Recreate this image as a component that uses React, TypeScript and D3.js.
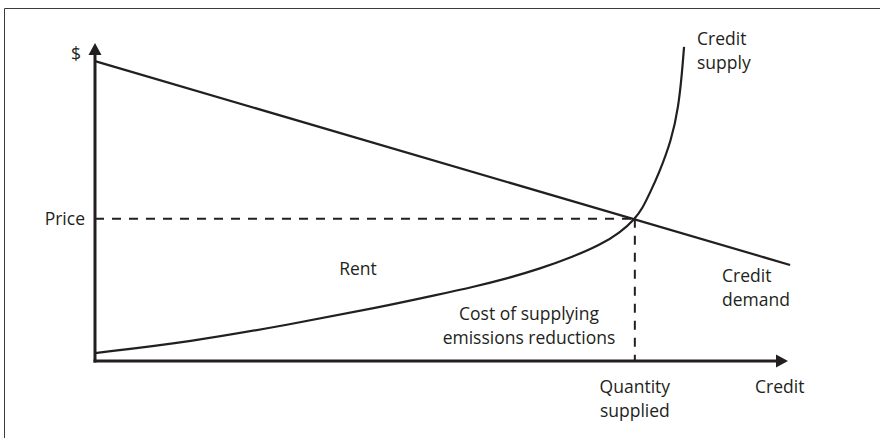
import React, { useEffect, useRef } from 'react';
import * as d3 from 'd3';

// demand line end points (x = quantity of credits, y = $)
const demandPoints: [number, number][] = [
  [0, 94.3],
  [100.3, 30.2],
];

// supply curve
const supplyX = [0, 13.7, 28.1, 41.1, 49.8, 54.6, 59.4, 64.2, 69.0, 72.9, 75.8, 77.9, 79.0, 80.1, 81.3, 83.2, 84.2, 84.7, 85.0];
const supplyY = [2.5, 6.0, 11.5, 16.9, 21.0, 23.3, 25.9, 29.0, 32.8, 36.5, 40.4, 44.7, 48.0, 53.0, 58.6, 69.5, 80.0, 90.5, 98.8];

const equilibrium = { quantity: 77.9, price: 44.7 };

const ink = '#231f20';
const fontFamily = '"Open Sans", "Noto Sans", sans-serif';

const W = 880;
const H = 438;

const App: React.FC = () => {
  const svgRef = useRef<SVGSVGElement>(null);

  useEffect(() => {
    if (!svgRef.current) return;
    const svg = d3.select(svgRef.current);
    svg.selectAll('*').remove();

    const x = d3.scaleLinear().domain([0, 100]).range([95, 788]);
    const y = d3.scaleLinear().domain([0, 100]).range([361, 43]);

    // frame (only top and left edges visible)
    svg.append('line').attr('x1', 4.5).attr('y1', 8.5).attr('x2', W).attr('y2', 8.5)
      .attr('stroke', '#3a3a3a').attr('stroke-width', 1);
    svg.append('line').attr('x1', 4.5).attr('y1', 8.5).attr('x2', 4.5).attr('y2', H)
      .attr('stroke', '#3a3a3a').attr('stroke-width', 1);

    const g = svg.append('g');

    // dashed guides
    g.append('line')
      .attr('x1', x(0)).attr('y1', y(equilibrium.price))
      .attr('x2', x(equilibrium.quantity)).attr('y2', y(equilibrium.price))
      .attr('stroke', ink).attr('stroke-width', 2).attr('stroke-dasharray', '9,8');
    g.append('line')
      .attr('x1', x(equilibrium.quantity)).attr('y1', y(equilibrium.price))
      .attr('x2', x(equilibrium.quantity)).attr('y2', y(0))
      .attr('stroke', ink).attr('stroke-width', 2).attr('stroke-dasharray', '9,8');

    // demand
    const line = d3.line<[number, number]>().x(d => x(d[0])).y(d => y(d[1]));
    g.append('path')
      .attr('d', line(demandPoints))
      .attr('fill', 'none').attr('stroke', ink).attr('stroke-width', 2.2);

    // supply
    const supply: [number, number][] = supplyX.map((v, i) => [v, supplyY[i]]);
    g.append('path')
      .attr('d', line.curve(d3.curveBasis)(supply))
      .attr('fill', 'none').attr('stroke', ink).attr('stroke-width', 2.2);

    // axes with arrow heads
    const ax0 = x(0);
    const ay0 = y(0);
    const xTip = x(100);
    const yTip = y(100);
    g.append('line').attr('x1', ax0).attr('y1', ay0 + 1.5).attr('x2', ax0).attr('y2', yTip + 10)
      .attr('stroke', ink).attr('stroke-width', 3);
    g.append('line').attr('x1', ax0 - 1.5).attr('y1', ay0).attr('x2', xTip - 10).attr('y2', ay0)
      .attr('stroke', ink).attr('stroke-width', 3);
    g.append('path')
      .attr('d', `M${ax0},${yTip} L${ax0 + 6.5},${yTip + 12} L${ax0 - 6.5},${yTip + 12} Z`)
      .attr('fill', ink);
    g.append('path')
      .attr('d', `M${xTip},${ay0} L${xTip - 12},${ay0 - 6.5} L${xTip - 12},${ay0 + 6.5} Z`)
      .attr('fill', ink);

    // labels
    const text = (tx: number, ty: number, lines: string[], anchor = 'start') => {
      const t = g.append('text')
        .attr('x', tx).attr('y', ty)
        .attr('text-anchor', anchor)
        .attr('font-family', fontFamily)
        .attr('font-size', 17.5)
        .attr('fill', ink);
      lines.forEach((s, i) => {
        t.append('tspan').attr('x', tx).attr('dy', i === 0 ? 0 : 24).text(s);
      });
    };

    text(81, 60, ['$'], 'end');
    text(85, y(equilibrium.price) + 6, ['Price'], 'end');
    text(358, 275, ['Rent'], 'middle');
    text(529, 320, ['Cost of supplying', 'emissions reductions'], 'middle');
    text(697, 45, ['Credit', 'supply']);
    text(722, 282, ['Credit', 'demand']);
    text(x(equilibrium.quantity), 393, ['Quantity', 'supplied'], 'middle');
    text(755, 393, ['Credit']);
  }, []);

  return (
    <svg
      ref={svgRef}
      width={W}
      height={H}
      style={{ position: 'absolute', left: 0, top: 0, background: '#fff' }}
    />
  );
};

export default App;
